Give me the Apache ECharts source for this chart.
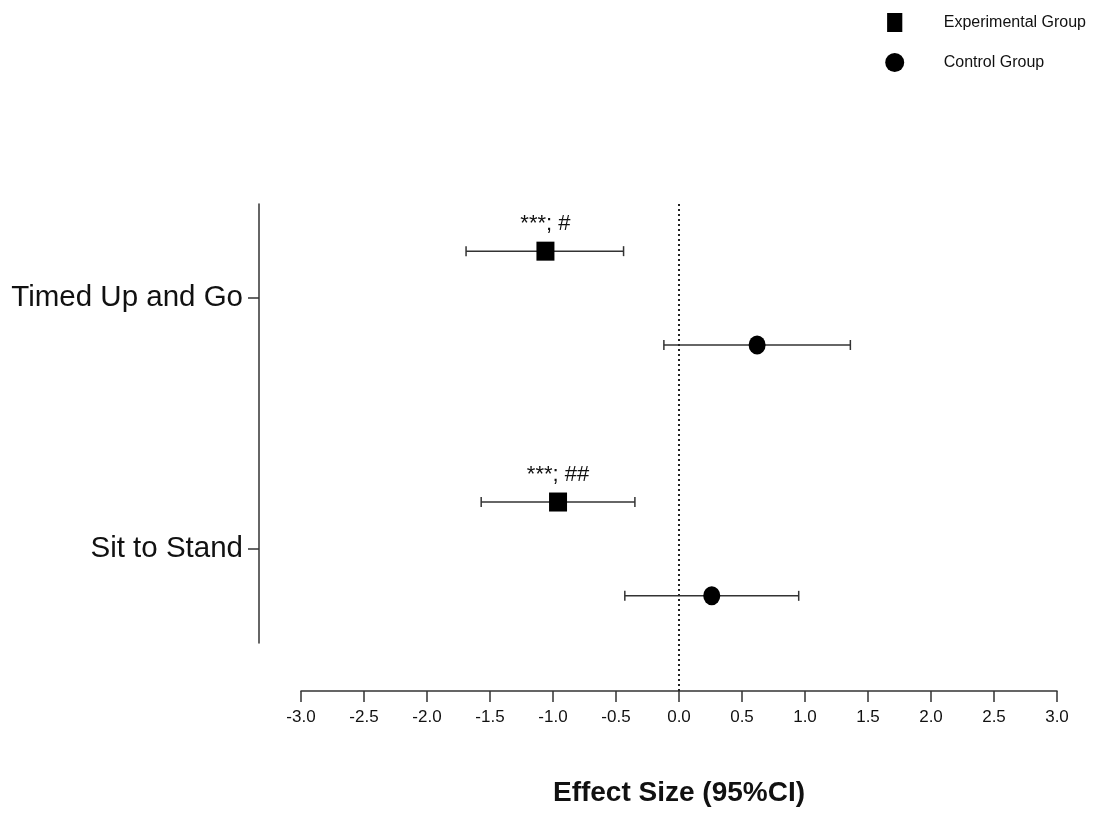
<!DOCTYPE html>
<html>
<head>
<meta charset="utf-8">
<script src="https://cdn.jsdelivr.net/npm/echarts@6/dist/echarts.min.js"></script>
<style>
	html, body { margin: 0; padding: 0; background: #fff; }
	#chart { width: 1101px; height: 815px; }
</style>
</head>
<body>
<div id="chart"></div>
<script>
	// outcomes, top to bottom
	var categories = ['Timed Up and Go', 'Sit to Stand'];
	var expEffect = [-1.06, -0.96];
	var expLower = [-1.69, -1.57];
	var expUpper = [-0.44, -0.35];
	var ctrlEffect = [0.62, 0.26];
	var ctrlLower = [-0.12, -0.43];
	var ctrlUpper = [1.36, 0.95];
	var expMarks = ['***; #', '***; ##'];
	var refLine = [[0, 0], [0, 1]];

	var rowOffset = 0.187; // experimental above, control below
	var yPos = categories.map(function(c, i) { return categories.length - 1 - i; });

	var expPoints = [], ctrlPoints = [], expBars = [], ctrlBars = [];
	for (var i = 0; i < categories.length; i++) {
		expPoints.push([expEffect[i], yPos[i] + rowOffset]);
		ctrlPoints.push([ctrlEffect[i], yPos[i] - rowOffset]);
		expBars.push([expLower[i], expUpper[i], yPos[i] + rowOffset]);
		ctrlBars.push([ctrlLower[i], ctrlUpper[i], yPos[i] - rowOffset]);
	}

	var font = '"Liberation Sans", Arial, sans-serif';
	var ink = '#333';

	function renderBar(params, api) {
		var lo = api.coord([api.value(0), api.value(2)]);
		var hi = api.coord([api.value(1), api.value(2)]);
		var cap = 5;
		var style = { stroke: ink, lineWidth: 1.5 };
		return {
			type: 'group',
			children: [
				{ type: 'line', shape: { x1: lo[0], y1: lo[1], x2: hi[0], y2: hi[1] }, style: style },
				{ type: 'line', shape: { x1: lo[0], y1: lo[1] - cap, x2: lo[0], y2: lo[1] + cap }, style: style },
				{ type: 'line', shape: { x1: hi[0], y1: hi[1] - cap, x2: hi[0], y2: hi[1] + cap }, style: style }
			]
		};
	}

	var chart = echarts.init(document.getElementById('chart'));
	var option = {
		animation: false,
		backgroundColor: '#fff',
		legend: {
			data: [
				{ name: 'Experimental Group', icon: 'path://M0,0H8V10H0Z' },
				{ name: 'Control Group', icon: 'path://M5,0A5,5,0,1,1,5,10A5,5,0,1,1,5,0Z' }
			],
			orient: 'vertical',
			right: 10,
			top: 8,
			itemWidth: 88,
			itemHeight: 19,
			itemGap: 21,
			textStyle: { fontFamily: font, fontSize: 16, color: '#111' }
		},
		grid: [
			{ left: 301, right: 44, top: 204, bottom: 124 },
			{ left: 301, right: 44, top: 204, bottom: 172 }
		],
		xAxis: [{
			gridIndex: 0,
			type: 'value',
			min: -3,
			max: 3,
			interval: 0.5,
			name: 'Effect Size (95%CI)',
			nameLocation: 'middle',
			nameGap: 88,
			nameTextStyle: { fontFamily: font, fontSize: 28, fontWeight: 'bold', color: '#111' },
			axisLine: { show: true, lineStyle: { color: ink, width: 1.5 } },
			axisTick: { show: true, length: 11, lineStyle: { color: ink, width: 1.5 } },
			axisLabel: {
				margin: 18,
				fontFamily: font,
				fontSize: 17,
				color: '#111',
				formatter: function(v) { return v.toFixed(1); }
			},
			splitLine: { show: false }
		}, {
			gridIndex: 1,
			type: 'value',
			min: -3,
			max: 3,
			show: false
		}],
		yAxis: [{
			gridIndex: 0,
			type: 'value',
			min: 0,
			max: 1,
			show: false
		}, {
			gridIndex: 1,
			type: 'value',
			min: -0.375,
			max: 1.375,
			offset: 42,
			axisLine: { show: true, onZero: false, lineStyle: { color: ink, width: 1.5 } },
			axisTick: { show: true, length: 11, customValues: yPos, lineStyle: { color: ink, width: 1.5 } },
			axisLabel: {
				customValues: yPos,
				margin: 16,
				fontFamily: font,
				fontSize: 29.5,
				color: '#111',
				formatter: function(v) { return categories[categories.length - 1 - Math.round(v)]; }
			},
			splitLine: { show: false }
		}],
		series: [{
			name: 'zero',
			type: 'line',
			xAxisIndex: 0,
			yAxisIndex: 0,
			data: refLine,
			symbol: 'none',
			silent: true,
			lineStyle: { color: '#222', width: 2, type: [2, 3] }
		}, {
			name: 'expCI',
			type: 'custom',
			xAxisIndex: 1,
			yAxisIndex: 1,
			renderItem: renderBar,
			data: expBars
		}, {
			name: 'ctrlCI',
			type: 'custom',
			xAxisIndex: 1,
			yAxisIndex: 1,
			renderItem: renderBar,
			data: ctrlBars
		}, {
			name: 'Experimental Group',
			type: 'scatter',
			xAxisIndex: 1,
			yAxisIndex: 1,
			data: expPoints,
			symbol: 'rect',
			symbolSize: [18, 19],
			itemStyle: { color: '#000', opacity: 1 },
			label: {
				show: true,
				position: 'top',
				distance: 7,
				fontFamily: font,
				fontSize: 22,
				color: '#111',
				formatter: function(p) { return expMarks[p.dataIndex]; }
			},
			z: 5
		}, {
			name: 'Control Group',
			type: 'scatter',
			xAxisIndex: 1,
			yAxisIndex: 1,
			data: ctrlPoints,
			symbol: 'circle',
			symbolSize: [17, 19],
			itemStyle: { color: '#000', opacity: 1 },
			z: 5
		}]
	};
	chart.setOption(option);
</script>
</body>
</html>
